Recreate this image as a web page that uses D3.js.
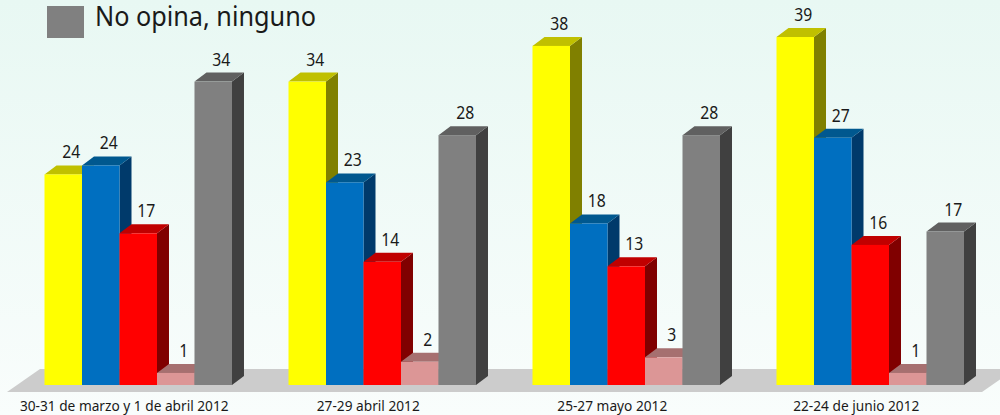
<!DOCTYPE html>
<html>
<head>
<meta charset="utf-8">
<script src="https://cdn.jsdelivr.net/npm/d3@7"></script>
<style>
    body { margin: 0; }
    svg { display: block; }
    text { font-family: "Noto Sans", sans-serif; fill: #1a1a1a; }
</style>
</head>
<body>
<div id="chart"></div>
<script>
// Dataset
const periods = ['30-31 de marzo y 1 de abril 2012', '27-29 abril 2012', '25-27 mayo 2012', '22-24 de junio 2012'];
const seriesNames = ['s1', 's2', 's3', 's4', 'No opina, ninguno'];
const legendNames = ['No opina, ninguno'];

// bar heights (the bars are not drawn from the rounded labels)
const yellowValues = [23.6, 34, 38, 39];
const blueValues = [24.6, 22.7, 18.1, 27.7];
const redValues = [17, 13.8, 13.3, 15.7];
const pinkValues = [1.35, 2.6, 3.1, 1.35];
const greyValues = [34, 28, 28, 17.2];

// printed labels
const yellowLabels = [24, 34, 38, 39];
const blueLabels = [24, 23, 18, 27];
const redLabels = [17, 14, 13, 16];
const pinkLabels = [1, 2, 3, 1];
const greyLabels = [34, 28, 28, 17];

const seriesValues = [yellowValues, blueValues, redValues, pinkValues, greyValues];
const seriesLabels = [yellowLabels, blueLabels, redLabels, pinkLabels, greyLabels];
const frontColors = ['#ffff00', '#006fc0', '#ff0000', '#dc9696', '#808080'];
const topColors = ['#c0c000', '#00588f', '#c00000', '#a67070', '#606060'];
const sideColors = ['#808000', '#003a6b', '#800000', '#6e4b4b', '#404040'];

// Chart dimensions
const dimensions = {
    width: 1000,
    height: 415,
    baseline: 385,
    depthX: 12,
    depthY: 9
}

// Scales
const xScale = d3.scaleBand()
    .domain(periods)
    .range([44.5, 964])
    .paddingInner(0.2316)

const barScale = d3.scaleBand()
    .domain(seriesNames)
    .range([0, xScale.bandwidth()])

const yScale = d3.scaleLinear()
    .domain([0, 39])
    .range([dimensions.baseline, 37])

// Draw the images/containers
const svg = d3.select('#chart')
    .append('svg')
    .attr('width', dimensions.width)
    .attr('height', dimensions.height)

const gradient = svg.append('defs')
    .append('linearGradient')
    .attr('id', 'bg')
    .attr('x1', 0).attr('y1', 0).attr('x2', 0).attr('y2', 1)
gradient.append('stop').attr('offset', '0%').attr('stop-color', '#e8f8f3')
gradient.append('stop').attr('offset', '100%').attr('stop-color', '#f9fdfc')

svg.append('rect')
    .attr('width', dimensions.width)
    .attr('height', dimensions.height)
    .attr('fill', 'url(#bg)')

// Floor
svg.append('polygon')
    .attr('points', '7,392 40,369 1015,369 982,392')
    .attr('fill', '#cccccc')

// Bars, left to right so each one covers the side of the previous one
const bars = [];
periods.forEach((period, p) => {
    seriesNames.forEach((name, s) => {
        bars.push({ period, name, s, value: seriesValues[s][p], label: seriesLabels[s][p] });
    });
});

const barGroups = svg.selectAll('g.bar')
    .data(bars)
    .join('g')
    .attr('class', 'bar')

const left = d => xScale(d.period) + barScale(d.name);
const right = d => left(d) + barScale.bandwidth();

barGroups.append('path')
    .attr('fill', d => sideColors[d.s])
    .attr('d', d => {
        const path = d3.path();
        path.moveTo(right(d), yScale(d.value));
        path.lineTo(right(d) + dimensions.depthX, yScale(d.value) - dimensions.depthY);
        path.lineTo(right(d) + dimensions.depthX, dimensions.baseline - dimensions.depthY);
        path.lineTo(right(d), dimensions.baseline);
        path.closePath();
        return path.toString();
    })

barGroups.append('path')
    .attr('fill', d => topColors[d.s])
    .attr('d', d => {
        const path = d3.path();
        path.moveTo(left(d), yScale(d.value));
        path.lineTo(left(d) + dimensions.depthX, yScale(d.value) - dimensions.depthY);
        path.lineTo(right(d) + dimensions.depthX, yScale(d.value) - dimensions.depthY);
        path.lineTo(right(d), yScale(d.value));
        path.closePath();
        return path.toString();
    })

barGroups.append('rect')
    .attr('x', left)
    .attr('y', d => yScale(d.value))
    .attr('width', barScale.bandwidth())
    .attr('height', d => dimensions.baseline - yScale(d.value))
    .attr('fill', d => frontColors[d.s])

// squeezed a bit, the original font is narrower than anything installed
barGroups.append('text')
    .attr('transform', d => `translate(${left(d) + barScale.bandwidth() / 2 + 8}, ${yScale(d.value) - 16}) scale(0.83, 1)`)
    .attr('text-anchor', 'middle')
    .attr('font-size', 19)
    .text(d => d.label)

// X axis, the labels sit a little left of the group centres
const xAxis = d3.axisBottom(xScale)
    .tickSize(0)
    .tickPadding(0)

const xAxisGroup = svg.append('g')
    .attr('transform', 'translate(-14, 401)')
    .call(xAxis)

xAxisGroup.select('.domain').remove()
xAxisGroup.selectAll('text')
    .attr('transform', 'scale(0.945, 1)')
    .style('font-family', '"Noto Sans", sans-serif')
    .style('font-size', '14.5px')
    .style('fill', '#1a1a1a')

// Legend
const legend = svg.selectAll('g.legend')
    .data(legendNames)
    .join('g')
    .attr('class', 'legend')

legend.append('rect')
    .attr('x', 47)
    .attr('y', 6)
    .attr('width', 37)
    .attr('height', 32)
    .attr('fill', frontColors[4])

legend.append('text')
    .attr('x', 95)
    .attr('y', 26)
    .attr('font-size', 28)
    .attr('textLength', 221)
    .attr('lengthAdjust', 'spacingAndGlyphs')
    .text(d => d)
</script>
</body>
</html>
